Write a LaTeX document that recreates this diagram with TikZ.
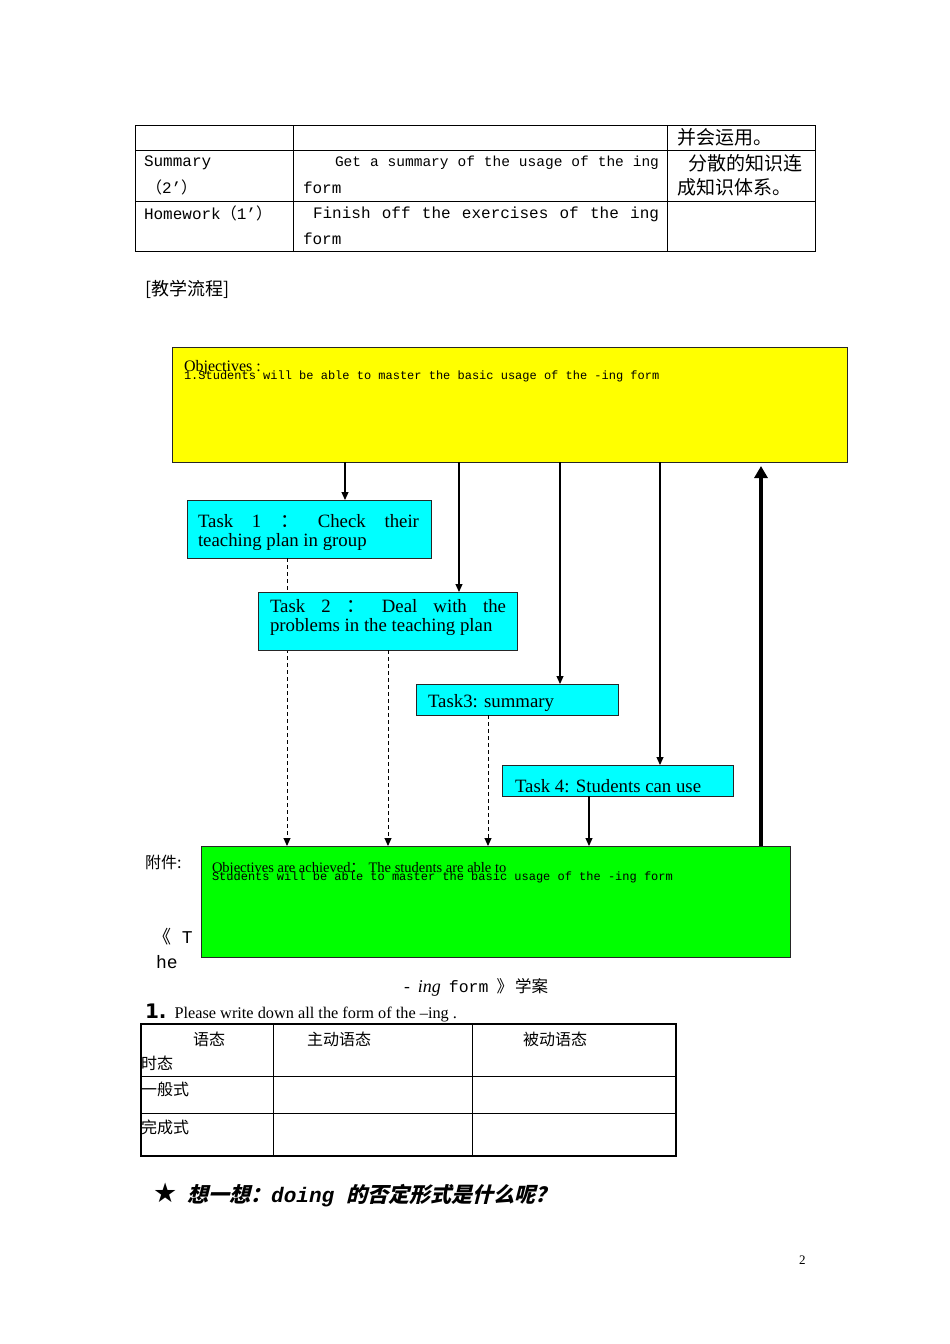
\documentclass[tikz,border=0pt]{standalone}
\usepackage{fontspec}
\usetikzlibrary{arrows.meta}
\setmainfont{Liberation Serif}
\newfontfamily\cjk{Noto Sans CJK SC}
\newfontfamily\cjkit[FakeSlant=0.25]{Noto Sans CJK SC}
\newfontfamily\mono{Liberation Mono}
\newfontfamily\sym{DejaVu Sans}
\newcommand\jline[3]{\hbox to #1{\spaceskip=#2 plus 1fil\relax #3}}
\definecolor{aqua}{RGB}{0,255,255}
\definecolor{yel}{RGB}{255,255,0}
\definecolor{lime}{RGB}{0,255,0}
\tikzset{
  tbl/.style={line width=0.8pt},
  tblthick/.style={line width=2pt},
  txt/.style={inner sep=0pt, outer sep=0pt, anchor=west},
  mono16/.style={font={\mono\fontsize{16}{19}\selectfont}},
  mono12/.style={font={\mono\fontsize{12}{14}\selectfont}},
  cjk19/.style={font={\cjk\fontsize{19}{22}\selectfont}},
  cjk16/.style={font={\cjk\fontsize{16}{19}\selectfont}},
  serif18/.style={font={\fontsize{18.8}{21}\selectfont}},
  box/.style={draw=black!85, line width=1pt, anchor=north west, inner sep=0pt, outer sep=0pt},
  taskbox/.style={box, fill=aqua},
  arr/.style={line width=1.1pt, -{Triangle[width=7pt,length=8pt]}},
  dsh/.style={line width=1pt, dash pattern=on 4pt off 3pt, -{Triangle[width=7pt,length=8pt]}},
}
\begin{document}
\begin{tikzpicture}[x=1pt,y=-1pt]
\useasboundingbox (0,0) rectangle (950,1344);
\fill[white] (0,0) rectangle (950,1344);

% ---------- top table ----------
\draw[tbl] (135,125) rectangle (815,251);
\draw[tbl] (293,125) -- (293,251);
\draw[tbl] (667,125) -- (667,251);
\draw[tbl] (135,150) -- (815,150);
\draw[tbl] (135,201) -- (815,201);

\node[txt,cjk19] (r1c3) at (677,137) {并会运用。};
\node[txt,mono16] (r2c1a) at (144,163) {Summary};
\node[txt,mono16] (r2c1b) at (146,187) {{\cjk （}2’{\cjk ）}};
\node[txt,font={\mono\fontsize{14.5}{19}\selectfont}] (r2c2a) at (335,163) {\jline{324pt}{0.3em}{Get a summary of the usage of the ing}};
\node[txt,mono16] (r2c2b) at (303,188) {form};
\node[txt,cjk19] (r2c3a) at (688,163) {分散的知识连};
\node[txt,cjk19] (r2c3b) at (677,187) {成知识体系。};
\node[txt,mono16] (r3c1) at (144,213) {Homework{\cjk （}1’{\cjk ）}};
\node[txt,mono16] (r3c2a) at (313,214) {\jline{346pt}{0.5em}{Finish off the exercises of the ing}};
\node[txt,mono16] (r3c2b) at (303,239) {form};

\node[txt,font={\cjk\fontsize{18}{21}\selectfont}] (flowtitle) at (145,289) {[教学流程]};

% ---------- flow chart ----------
\coordinate (c1) at (345,0);
\coordinate (c2) at (459,0);
\coordinate (c3) at (560,0);
\coordinate (c4) at (660,0);
\coordinate (c5) at (761,0);
\coordinate (d1) at (287,0);
\coordinate (d2) at (388,0);
\coordinate (d3) at (488,0);
\coordinate (d4) at (589,0);

\node[box, fill=yel, minimum width=675pt, minimum height=115pt] (yel) at (172,347) {};
\node[box, fill=lime, minimum width=589pt, minimum height=111pt] (grn) at (201,846) {};
\node[taskbox, minimum width=244pt, minimum height=58pt] (t1) at (187,500) {};

\draw[dsh] (t1.south -| d1) -- (grn.north -| d1);

\node[taskbox, minimum width=259pt, minimum height=58pt] (t2) at (258,592) {};
\node[taskbox, minimum width=202pt, minimum height=31pt] (t3) at (416,684) {};
\node[taskbox, minimum width=231pt, minimum height=31pt] (t4) at (502,765) {};

\draw[dsh] (t2.south -| d2) -- (grn.north -| d2);
\draw[dsh] (t3.south -| d3) -- (grn.north -| d3);
\draw[arr] (t4.south -| d4) -- (grn.north -| d4);

\draw[arr] (yel.south -| c1) -- (t1.north -| c1);
\draw[arr] (yel.south -| c2) -- (t2.north -| c2);
\draw[arr] (yel.south -| c3) -- (t3.north -| c3);
\draw[arr] (yel.south -| c4) -- (t4.north -| c4);
\draw[line width=3.6pt, -{Triangle[width=13pt,length=12pt]}] (grn.north -| c5) -- ([yshift=-4pt]yel.south -| c5);

% box texts
\node[txt,font={\fontsize{16}{18}\selectfont}] (yobj) at (184,368) {Objectives :};
\node[txt,mono12] (yline) at (184,376) {1.Students will be able to master the basic usage of the -ing form};

\node[txt,serif18] (t1a) at (198,521) {\jline{221pt}{0.25em}{Task 1 {\cjk ：} Check their}};
\node[txt,serif18] (t1b) at (198,542) {teaching plan in group};
\node[txt,serif18] (t2a) at (270,606) {\jline{236pt}{0.25em}{Task 2 {\cjk ：} Deal with the}};
\node[txt,serif18] (t2b) at (270,627) {problems in the teaching plan};
\node[txt,serif18] (t3a) at (428,703) {Task3: summary};
\node[txt,serif18] (t4a) at (515,786) {Task 4: Students can use};

\node[txt,font={\fontsize{14.5}{17}\selectfont}] (gobj) at (212,869) {Objectives are achieved{\cjk ：} The students are able to};
\node[txt,mono12] (gline) at (212,877) {Students will be able to master the basic usage of the -ing form};

% ---------- side texts ----------
\node[txt,cjk16] (fujian) at (145,862) {附件:};
\node[txt,font={\mono\fontsize{18}{21}\selectfont}] (bk1) at (153,937) {{\cjk 《} T};
\node[txt,font={\mono\fontsize{18}{21}\selectfont}] (bk2) at (156,962) {he};
\node[txt,font={\mono\fontsize{16.5}{21}\selectfont}] (bk3) at (402,987) {-\hspace{6pt}{\rmfamily\itshape\fontsize{18}{21}\selectfont ing}\hspace{8pt}form\hspace{8pt}{\cjk 》\hspace{2pt}学案}};

\node[txt] (q1) at (145,1013) {{\sym\bfseries\fontsize{20}{22}\selectfont 1.}\hspace{8pt}{\fontsize{16.3}{18}\selectfont Please write down all the form of the –ing .}};

% ---------- bottom table ----------
\draw[tbl] (273,1024) -- (273,1156);
\draw[tbl] (472,1024) -- (472,1156);
\draw[tbl] (141,1076) -- (676,1076);
\draw[tbl] (141,1113) -- (676,1113);
\draw[tblthick] (141,1024) rectangle (676,1156);

\node[txt,cjk16] (h1) at (193,1039) {语态};
\node[txt,cjk16] (h2) at (141,1063) {时态};
\node[txt,cjk16] (h3) at (307,1039) {主动语态};
\node[txt,cjk16] (h4) at (523,1039) {被动语态};
\node[txt,cjk16] (h5) at (141,1089) {一般式};
\node[txt,cjk16] (h6) at (141,1127) {完成式};

% ---------- star line ----------
\node[txt] (star) at (153,1195) {{\sym\fontsize{27}{28}\selectfont ★}\hspace{10pt}{\cjkit\bfseries\fontsize{21}{24}\selectfont 想一想：}{\mono\bfseries\itshape\fontsize{21}{24}\selectfont doing }{\cjkit\bfseries\fontsize{21}{24}\selectfont 的否定形式是什么呢？}};

\node[txt,font={\fontsize{13}{15}\selectfont}] (pageno) at (799,1260) {2};
\end{tikzpicture}
\end{document}
